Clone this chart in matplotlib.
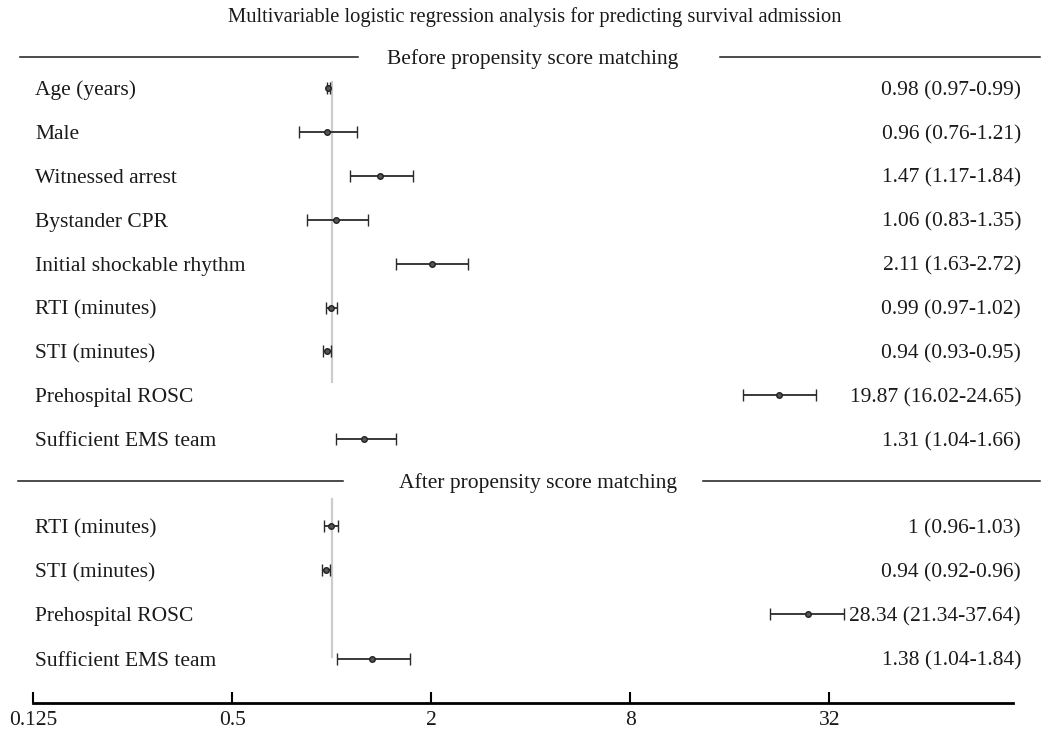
import numpy as np
import matplotlib
matplotlib.use("Agg")
import matplotlib.pyplot as plt
from matplotlib.ticker import NullLocator

plt.rcParams['font.family'] = ['Liberation Serif', 'DejaVu Serif']

# data
title = "Multivariable logistic regression analysis for predicting survival admission"
before_title = "Before propensity score matching"
after_title = "After propensity score matching"

before_labels = ["Age (years)", "Male", "Witnessed arrest", "Bystander CPR",
                 "Initial shockable rhythm", "RTI (minutes)", "STI (minutes)",
                 "Prehospital ROSC", "Sufficient EMS team"]
before_or = np.array([0.976, 0.969, 1.40, 1.034, 2.008, 0.994, 0.969, 22.5, 1.257])
before_lo = np.array([0.968, 0.797, 1.136, 0.843, 1.566, 0.962, 0.942, 17.5, 1.034])
before_hi = np.array([0.986, 1.197, 1.767, 1.284, 2.594, 1.039, 0.994, 29.1, 1.562])
before_text = ["0.98 (0.97-0.99)", "0.96 (0.76-1.21)", "1.47 (1.17-1.84)",
               "1.06 (0.83-1.35)", "2.11 (1.63-2.72)", "0.99 (0.97-1.02)",
               "0.94 (0.93-0.95)", "19.87 (16.02-24.65)", "1.31 (1.04-1.66)"]

after_labels = ["RTI (minutes)", "STI (minutes)", "Prehospital ROSC", "Sufficient EMS team"]
after_or = np.array([0.994, 0.960, 27.6, 1.327])
after_lo = np.array([0.947, 0.934, 21.2, 1.039])
after_hi = np.array([1.049, 0.990, 35.4, 1.730])
after_text = ["1 (0.96-1.03)", "0.94 (0.92-0.96)", "28.34 (21.34-37.64)", "1.38 (1.04-1.84)"]

ticks = [0.125, 0.5, 2, 8, 32]
tick_labels = ["0.125", "0.5", "2", "8", "32"]

W, H = 1047, 729
fig = plt.figure(figsize=(W / 100, H / 100), dpi=100)
ax = fig.add_axes([0, 0, 1, 1])
ax.set_xscale('log', base=2)
# x pixel 33 -> 0.125, ~99.25 px per doubling
ax.set_xlim(2 ** (-3 - 33 / 99.25), 2 ** ((W - 333.5) / 99.25))
ax.set_ylim(H, 0)

y_before = 88 + 43.9 * np.arange(len(before_labels))
y_after = 526 + 44.2 * np.arange(len(after_labels))

fs = 15.5
ink = '#1a1a1a'
dy = 2.5  # text sits slightly lower than the marks
tr = ax.get_yaxis_transform()

# reference line at 1
ax.plot([1, 1], [82, 382], color='#cccccc', lw=1.6, zorder=1)
ax.plot([1, 1], [499, 657], color='#cccccc', lw=1.6, zorder=1)

for ors, lo, hi, ys in [(before_or, before_lo, before_hi, y_before),
                        (after_or, after_lo, after_hi, y_after)]:
    ax.errorbar(ors, ys, xerr=[ors - lo, hi - ors], fmt='o', color='#2a2a2a',
                ecolor='#2a2a2a', elinewidth=1.3, capsize=4.2, capthick=1.3,
                markersize=4.0, mfc='#555555', mec='#222222', mew=1.0, zorder=3)

for lab, txt, yy in zip(before_labels + after_labels, before_text + after_text,
                        list(y_before) + list(y_after)):
    ax.text(35 / W, yy + dy, lab, transform=tr, ha='left', va='center', fontsize=fs, color=ink)
    ax.text(1021 / W, yy + dy, txt, transform=tr, ha='right', va='center', fontsize=fs, color=ink)

ax.text(535 / W, 17, title, transform=tr, ha='center', va='center', fontsize=14.8, color=ink)

# section headers
ax.text(533 / W, 57 + dy, before_title, transform=tr, ha='center', va='center', fontsize=fs, color=ink)
ax.plot([20 / W, 358 / W], [57, 57], transform=tr, color=ink, lw=1.1)
ax.plot([720 / W, 1040 / W], [57, 57], transform=tr, color=ink, lw=1.1)

ax.text(538 / W, 481 + dy, after_title, transform=tr, ha='center', va='center', fontsize=fs, color=ink)
ax.plot([18 / W, 343 / W], [481, 481], transform=tr, color=ink, lw=1.1)
ax.plot([703 / W, 1040 / W], [481, 481], transform=tr, color=ink, lw=1.1)

# bottom axis
for s in ['top', 'left', 'right']:
    ax.spines[s].set_visible(False)
ax.spines['bottom'].set_position(('data', 703))
ax.spines['bottom'].set_bounds(0.125, 2 ** ((1012.7 - 333.5) / 99.25))
ax.spines['bottom'].set_linewidth(2.0)
ax.set_xticks(ticks)
ax.set_xticklabels(tick_labels)
ax.xaxis.set_minor_locator(NullLocator())
ax.tick_params(axis='x', direction='in', length=8, width=1.5, pad=5.5, labelsize=fs,
               labelcolor=ink)
ax.set_yticks([])
ax.patch.set_alpha(0)

fig.savefig("out.png", dpi=100)
